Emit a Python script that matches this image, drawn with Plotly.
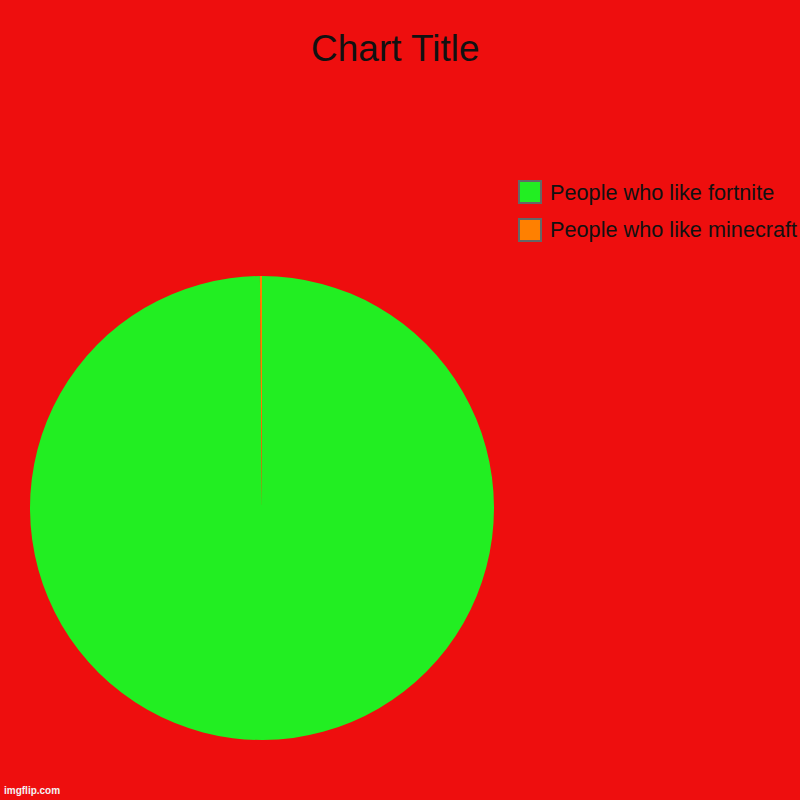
import plotly.graph_objects as go

# data
labels = ["People who like fortnite", "People who like minecraft"]
values = [700, 1]
colors = ["#22EE22", "#FF8000"]
title = "Chart Title"

BG = "#EE0E0E"
FONT = "Liberation Sans, Arial, sans-serif"

fig = go.Figure()

fig.add_trace(go.Pie(
    labels=labels, values=values, sort=False, direction="clockwise", rotation=0,
    marker=dict(colors=colors, line=dict(width=0)),
    textinfo="none", hoverinfo="label+value", showlegend=False,
    domain=dict(x=[30 / 800, 494 / 800], y=[1 - 740 / 800, 1 - 276 / 800]),
))

# legend drawn by hand so the swatches get the grey border
shapes = []
annotations = []
for i, (lab, col) in enumerate(zip(labels, colors)):
    yc = 192 + i * 38
    shapes.append(dict(
        type="rect", xref="paper", yref="paper",
        x0=519 / 800, x1=541 / 800, y0=1 - (yc + 11) / 800, y1=1 - (yc - 11) / 800,
        fillcolor=col, line=dict(color="#666666", width=2),
    ))
    annotations.append(dict(
        text=lab, xref="paper", yref="paper", x=548 / 800, y=1 - yc / 800,
        xanchor="left", yanchor="middle", showarrow=False,
        font=dict(family=FONT, size=21.7, color="#111111"),
    ))

annotations.append(dict(
    text=title, xref="paper", yref="paper", x=395 / 800, y=1 - 48 / 800,
    xanchor="center", yanchor="middle", showarrow=False,
    font=dict(family=FONT, size=37, color="#111111"),
))
annotations.append(dict(
    text="<b>imgflip.com</b>", xref="paper", yref="paper", x=2 / 800, y=1 - 798 / 800,
    xanchor="left", yanchor="bottom", showarrow=False,
    font=dict(family=FONT, size=10, color="#f4f4f4"),
))

fig.update_layout(
    width=800, height=800,
    margin=dict(l=0, r=0, t=0, b=0),
    paper_bgcolor=BG, plot_bgcolor=BG,
    shapes=shapes, annotations=annotations,
)

fig.write_html("out.html", config={"displayModeBar": False},
               post_script="document.body.style.margin='0';")
